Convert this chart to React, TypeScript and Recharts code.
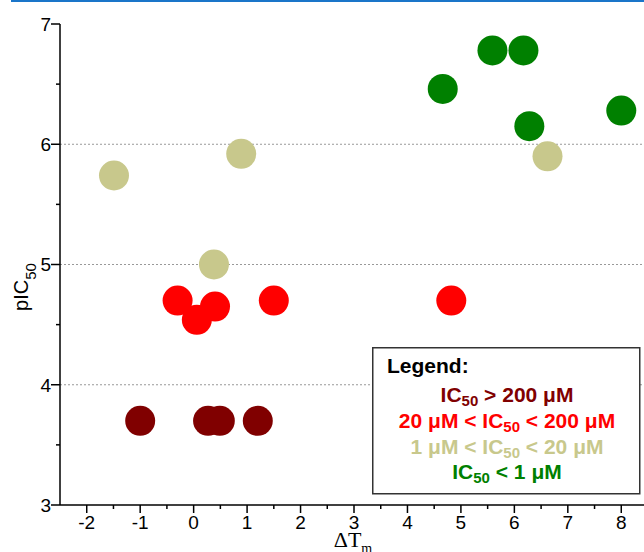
import React from 'react';
import { ScatterChart, Scatter, XAxis, YAxis, ReferenceLine } from 'recharts';

// ---- data ----
const xTicks = [-2, -1.5, -1, -0.5, 0, 0.5, 1, 1.5, 2, 2.5, 3, 3.5, 4, 4.5, 5, 5.5, 6, 6.5, 7, 7.5, 8];
const yTicks = [3, 3.5, 4, 4.5, 5, 5.5, 6, 6.5, 7];
const gridLevels = [4, 5, 6];

const above200 = [
  { x: -1.0, y: 3.7 },
  { x: 0.27, y: 3.7 },
  { x: 0.49, y: 3.7 },
  { x: 1.2, y: 3.7 },
];
const between20and200 = [
  { x: -0.3, y: 4.7 },
  { x: 0.06, y: 4.54 },
  { x: 0.4, y: 4.65 },
  { x: 1.5, y: 4.7 },
  { x: 4.82, y: 4.7 },
];
const between1and20 = [
  { x: -1.49, y: 5.74 },
  { x: 0.89, y: 5.92 },
  { x: 0.38, y: 5.0 },
  { x: 6.62, y: 5.9 },
];
const below1 = [
  { x: 4.66, y: 6.46 },
  { x: 5.59, y: 6.78 },
  { x: 6.17, y: 6.78 },
  { x: 6.28, y: 6.15 },
  { x: 8.0, y: 6.28 },
];

const legendTitle = 'Legend:';
const legendItems = [
  { pre: 'IC', sub: '50', post: ' > 200 μM', color: '#800000' },
  { pre: '20 μM < IC', sub: '50', post: ' < 200 μM', color: '#ff0000' },
  { pre: '1 μM < IC', sub: '50', post: ' < 20 μM', color: '#c8c88c' },
  { pre: 'IC', sub: '50', post: ' < 1 μM', color: '#008000' },
];

const SANS = 'Liberation Sans, Arial, sans-serif';
const SERIF = 'Liberation Serif, Times New Roman, serif';

const XTick = (props: any) => {
  const { x, y, payload } = props;
  const v = payload.value;
  const major = Number.isInteger(v);
  return (
    <g>
      <line x1={x} x2={x} y1={y} y2={y + (major ? 8 : 4)} stroke="#000" strokeWidth={1.5} />
      {major && (
        <text x={x} y={y + 24} textAnchor="middle" fontSize={19} fontFamily={SANS} fill="#000">
          {v}
        </text>
      )}
    </g>
  );
};

const YTick = (props: any) => {
  const { x, y, payload } = props;
  const v = payload.value;
  const major = Number.isInteger(v);
  return (
    <g>
      <line x1={x} x2={x - (major ? 9 : 4)} y1={y} y2={y} stroke="#000" strokeWidth={1.5} />
      {major && (
        <text x={x - 9} y={y} dy="0.36em" textAnchor="end" fontSize={19} fontFamily={SANS} fill="#000">
          {v}
        </text>
      )}
    </g>
  );
};

const dot = (color: string) => (p: any) => <circle cx={p.cx} cy={p.cy} r={15} fill={color} />;

export default function App() {
  return (
    <div
      style={{
        position: 'fixed',
        left: 0,
        top: 0,
        width: 644,
        height: 552,
        overflow: 'hidden',
        background: '#fff',
      }}
    >
      <div style={{ position: 'absolute', left: 11, top: 0, width: 633, height: 2, background: '#1a75c9' }} />
      <ScatterChart width={660} height={552} margin={{ top: 24, right: 12, bottom: 0, left: 0 }}>
        <XAxis
          type="number"
          dataKey="x"
          domain={[-2.5, 8.5]}
          ticks={xTicks}
          interval={0}
          height={47}
          tickSize={0}
          tickMargin={0}
          tick={<XTick />}
          axisLine={{ stroke: '#000', strokeWidth: 1.5 }}
          allowDataOverflow
        />
        <YAxis
          type="number"
          dataKey="y"
          domain={[3, 7]}
          ticks={yTicks}
          interval={0}
          width={60}
          tickSize={0}
          tickMargin={0}
          tick={<YTick />}
          axisLine={{ stroke: '#000', strokeWidth: 1.5 }}
          allowDataOverflow
        />
        {gridLevels.map((g) => (
          <ReferenceLine key={g} y={g} stroke="#999" strokeDasharray="2 2" strokeWidth={1} />
        ))}
        <Scatter data={above200} fill="#800000" shape={dot('#800000')} isAnimationActive={false} />
        <Scatter data={between20and200} fill="#ff0000" shape={dot('#ff0000')} isAnimationActive={false} />
        <Scatter data={between1and20} fill="#c8c88c" shape={dot('#c8c88c')} isAnimationActive={false} />
        <Scatter data={below1} fill="#008000" shape={dot('#008000')} isAnimationActive={false} />
      </ScatterChart>
      <svg
        width={644}
        height={552}
        style={{ position: 'absolute', left: 0, top: 0, pointerEvents: 'none' }}
      >
        <text transform="translate(28,287) rotate(-90)" textAnchor="middle" fontSize={20} fontFamily={SANS} fill="#000">
          pIC
          <tspan fontSize={15} dy={8}>
            50
          </tspan>
        </text>
        <text x={353} y={547} textAnchor="middle" fontSize={22} fontFamily={SERIF} fill="#000">
          ΔT
          <tspan fontSize={14} dy={6}>
            m
          </tspan>
        </text>
        <rect x={372.75} y={347.75} width={267} height={146} fill="#fff" stroke="#333" strokeWidth={1.5} />
        <text x={387} y={373} fontSize={21} fontWeight="bold" fontFamily={SANS} fill="#000">
          {legendTitle}
        </text>
        {legendItems.map((it, i) => (
          <text
            key={i}
            x={507}
            y={402 + i * 25.8}
            textAnchor="middle"
            fontSize={21}
            fontWeight="bold"
            fontFamily={SANS}
            fill={it.color}
          >
            {it.pre}
            <tspan fontSize={15} dy={4}>
              {it.sub}
            </tspan>
            <tspan dy={-4}>{it.post}</tspan>
          </text>
        ))}
      </svg>
    </div>
  );
}
